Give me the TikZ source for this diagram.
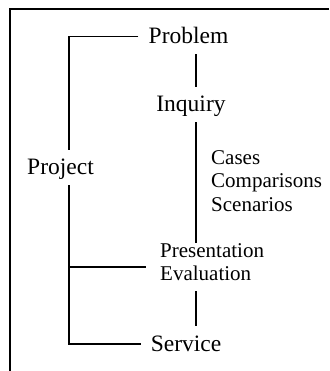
\documentclass[tikz,border=0pt]{standalone}
\usepackage{fontspec}
\setmainfont{Liberation Serif}
\usetikzlibrary{positioning}

\begin{document}
\begin{tikzpicture}[
x=1pt, y=-1pt,
term/.style={
  font=\fontsize{23.5}{28}\selectfont,
  text height=20.2pt,
  text depth=5.2pt,
  inner xsep=10pt,
  inner ysep=5pt,
  anchor=base
  },
sub/.style={
  font=\fontsize{21}{23.5}\selectfont,
  align=left,
  inner sep=0pt,
  anchor=north west
  },
link/.style={line width=1.7pt},
frame/.style={line width=2pt}
]
\useasboundingbox (0,0) rectangle (329,371);

% outer frame, open at right and bottom
\draw[frame] (329,9.3) -- (10,9.3) -- (10,371);

\coordinate (spine) at (69.3,0);
\coordinate (axis) at (196.3,0);

\node[term] (problem) at (188.5,44) {Problem};
\node[term] (inquiry) at (191,112) {Inquiry};
\node[term] (project) at (60.5,175) {Project};
\node[term] (service) at (186,351.7) {Service};
\node[sub] (pe) at (160,243) {Presentation\\Evaluation};
\node[sub] (cases) at (211,150) {Cases\\Comparisons\\Scenarios};

% left spine with its branches
\draw[link] (problem.west) -| (project.north -| spine);
\draw[link] (project.south -| spine) |- (service.west);
\draw[link,shorten >=14pt] ([yshift=-5pt]pe.west -| spine) -- ([yshift=-5pt]pe.west);

% middle axis
\foreach \a/\b in {problem/inquiry,inquiry/pe}
  \draw[link] (\a.south -| axis) -- (\b.north -| axis);
\draw[link,shorten <=10pt] (pe.south -| axis) -- (service.north -| axis);

\end{tikzpicture}
\end{document}
